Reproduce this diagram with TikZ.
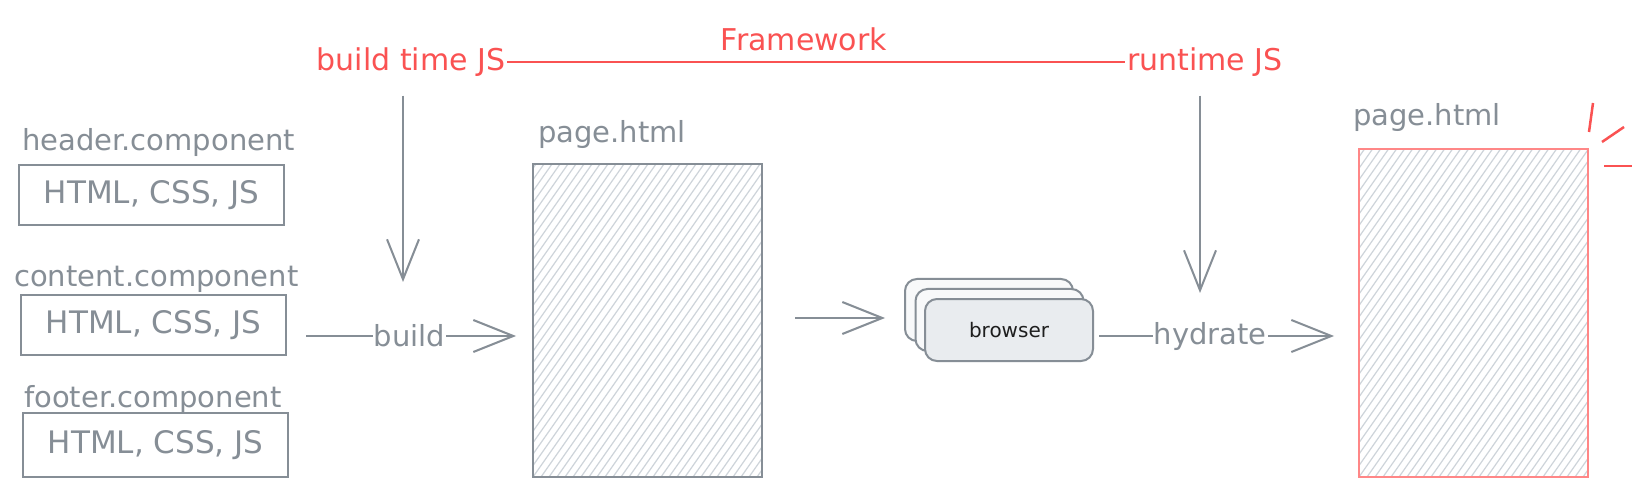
\documentclass[tikz,border=0pt]{standalone}
\usepackage[usenames,dvipsnames,svgnames,table,rgb]{xcolor}
\usepackage{tikz}
\usepackage{fontspec}
\setmainfont{DejaVu Sans}
\usetikzlibrary{arrows.meta,positioning}

\definecolor{sketchgray}{HTML}{868E96}
\definecolor{sketchred}{HTML}{FA5252}
\definecolor{pagered}{HTML}{FF8787}
\definecolor{hatchgray}{HTML}{CED4DA}
\definecolor{browserfill}{HTML}{E9ECEF}
\definecolor{browserback}{HTML}{F8F9FA}
\definecolor{inkblack}{HTML}{1E1E1E}

\tikzset{
	hand/.style={font=\fontsize{29}{34}\selectfont, inner sep=2pt},
	complbl/.style={hand, text=sketchgray, anchor=base west},
	compbox/.style={hand, font=\fontsize{31}{36}\selectfont, draw=sketchgray, line width=2pt, text=sketchgray, minimum width=265pt, minimum height=60pt},
	jslbl/.style={hand, font=\fontsize{30}{35}\selectfont, text=sketchred},
	edgelbl/.style={hand, text=sketchgray, fill=white, inner sep=1pt},
	hatched/.style={path picture={
		\foreach \k in {-32,...,32}
			\draw[hatchgray, line width=1.2pt] ([xshift=\k*8pt]path picture bounding box.south west) -- ++(240,-343);
	}},
	pagebox/.style={draw=sketchgray, line width=2pt, minimum width=229pt, hatched},
	browserbox/.style={draw=sketchgray, line width=2pt, rounded corners=12pt, minimum width=168pt, minimum height=62pt, fill=browserback},
	flow/.style={draw=sketchgray, line width=2pt, -{Straight Barb[length=40pt, width=32pt, line width=2pt]}},
}

\begin{document}
\begin{tikzpicture}[x=1pt, y=-1pt]

		\fill[white] (0,0) rectangle (1650,497);
		\useasboundingbox (0,0) rectangle (1650,497);

		\node[compbox] (hdrbox) at (151.5,195) {HTML, CSS, JS};
		\node[compbox] (cntbox) at (153.5,325) {HTML, CSS, JS};
		\node[compbox, minimum height=64pt] (ftrbox) at (155.5,445) {HTML, CSS, JS};
		\node[complbl] (hdrlbl) at (20,151) {header.component};
		\node[complbl] (cntlbl) at (12,287) {content.component};
		\node[complbl] (ftrlbl) at (22,407) {footer.component};

		\node[pagebox, minimum height=313pt] (page1) at (647.5,320.5) {};
		\node[complbl] (page1lbl) at (536,143) {page.html};
		\node[pagebox, draw=pagered, minimum height=328pt] (page2) at (1473.5,313) {};
		\node[complbl] (page2lbl) at (1351,126) {page.html};

		\node[browserbox] (brwback) at (989,310) {};
		\node[browserbox] (brwmid) at (999.5,320) {};
		\node[browserbox, fill=browserfill, font=\fontsize{20}{24}\selectfont, text=inkblack] (brwfront) at (1009,330) {browser};

		\node[jslbl] (buildjs) at (411,62) {build time JS};
		\node[jslbl] (runtimejs) at (1205,62) {runtime JS};
		\node[jslbl] (frame) at (804,39) {Framework};

		\coordinate (flowrow) at (0,336);
		\coordinate (sendrow) at (0,318);
		\coordinate (btend) at (403,282);
		\coordinate (rtend) at (1200,293);

		\draw[sketchred, line width=2pt] (buildjs) -- (runtimejs);
		\draw[flow, shorten <=17pt] (buildjs.south -| btend) -- (btend);
		\draw[flow, shorten <=17pt] (runtimejs.south -| rtend) -- (rtend);

		\draw[flow, shorten <=19pt, shorten >=16pt] (cntbox.east |- flowrow) -- node[edgelbl] {build} (page1.west |- flowrow);
		\draw[flow, shorten <=32pt, shorten >=19pt] (page1.east |- sendrow) -- (brwback.west |- sendrow);
		\draw[flow, shorten <=5pt, shorten >=24pt] (brwfront.east |- flowrow) -- node[edgelbl, pos=0.44] {hydrate} (page2.west |- flowrow);

		\draw[sketchred, line width=2.5pt] ([shift={(4,-45)}]page2.north east) -- ([shift={(0,-16)}]page2.north east);
		\draw[sketchred, line width=2.5pt] ([shift={(13,-6)}]page2.north east) -- ([shift={(35,-21)}]page2.north east);
		\draw[sketchred, line width=2.5pt] ([shift={(15,18)}]page2.north east) -- ([shift={(43,18)}]page2.north east);
	\end{tikzpicture}
\end{document}
